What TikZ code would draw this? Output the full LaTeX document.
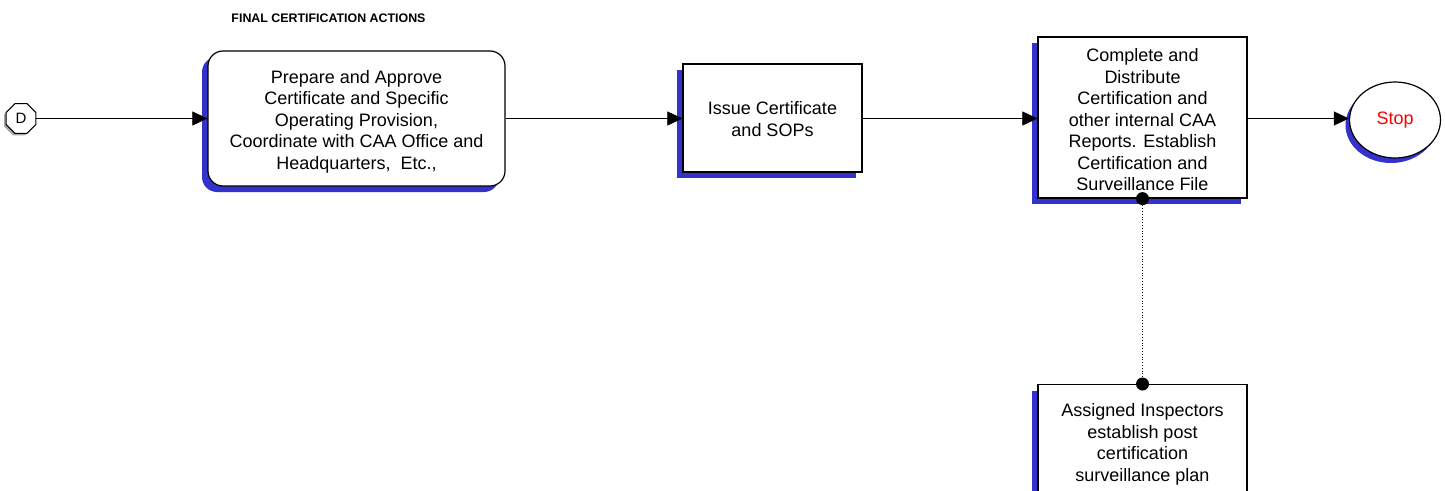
\documentclass[tikz,border=0pt]{standalone}
\usepackage{fontspec}
\setmainfont{Liberation Sans}
\usetikzlibrary{shapes.geometric,shadows,arrows.meta}
\definecolor{shadowblue}{RGB}{51,51,204}
\newcommand\topstrut[1]{\rule{0pt}{#1}}
\tikzset{
  x=1pt,y=-1pt,
  bluesh/.style={general shadow={shadow xshift=-6pt,shadow yshift=-6pt,fill=shadowblue}},
  procbox/.style={draw=black,line width=1.2pt,fill=white,align=center,inner sep=2pt,
    font=\fontsize{18}{21.5}\selectfont,bluesh},
  conn/.style={draw=black,line width=0.6pt,-{Triangle[length=15pt,width=14pt]}},
  dot/.style={circle,fill=black,inner sep=0pt,minimum size=13pt}
}
\begin{document}
\begin{tikzpicture}
\useasboundingbox (0,0) rectangle (1445,490);
\clip (0,0) rectangle (1445,490);
\node[font=\bfseries\fontsize{12.4}{14}\selectfont] (title) at (328.5,18) {FINAL CERTIFICATION ACTIONS};
\node[regular polygon,regular polygon sides=8,draw,line width=1pt,fill=white,minimum size=32pt,inner sep=0pt,
  font=\fontsize{15}{17}\selectfont,
  general shadow={shadow xshift=-2pt,shadow yshift=-2pt,fill=gray!70}] (D) at (21,118.5) {D};
\node[procbox,rounded corners=15pt,minimum width=297pt,minimum height=135pt] (b1) at (356.5,118.5)
  {\topstrut{19pt}Prepare and Approve\\Certificate and Specific\\Operating Provision,\\Coordinate with CAA Office and\\Headquarters,\ \ Etc.,};
\node[procbox,minimum width=179pt,minimum height=108pt] (b2) at (772.5,118)
  {\topstrut{15pt}Issue Certificate\\and SOPs};
\node[procbox,minimum width=209pt,minimum height=161pt] (b3) at (1142.5,117.5)
  {\topstrut{17.5pt}Complete and\\Distribute\\Certification and\\other internal CAA\\Reports. Establish\\Certification and\\Surveillance File};
\node[procbox,minimum width=209pt,minimum height=126pt,anchor=north,text depth=0pt] (b4) at (1142.5,384) {};
\node[align=center,font=\fontsize{18}{21.5}\selectfont,anchor=north] (t4) at (1142.5,400)
  {Assigned Inspectors\\establish post\\certification\\surveillance plan};
\node[ellipse,draw,line width=1.2pt,fill=white,minimum width=91pt,minimum height=76pt,
  text=red,font=\fontsize{18}{20}\selectfont,
  general shadow={shadow xshift=-4pt,shadow yshift=-5pt,fill=shadowblue}] (stop) at (1395,120) {Stop};
\path[conn] (D.east) -- (b1.west |- D.east);
\path[conn] (b1.east |- D.east) -- (b2.west |- D.east);
\path[conn] (b2.east |- D.east) -- (b3.west |- D.east);
\path[conn] (b3.east |- D.east) -- (stop.west |- D.east);
\node[dot] (d1) at (b3.south) {};
\node[dot] (d2) at (b4.north) {};
\draw[dotted,line width=0.8pt] (d1) -- (d2);
\end{tikzpicture}
\end{document}
